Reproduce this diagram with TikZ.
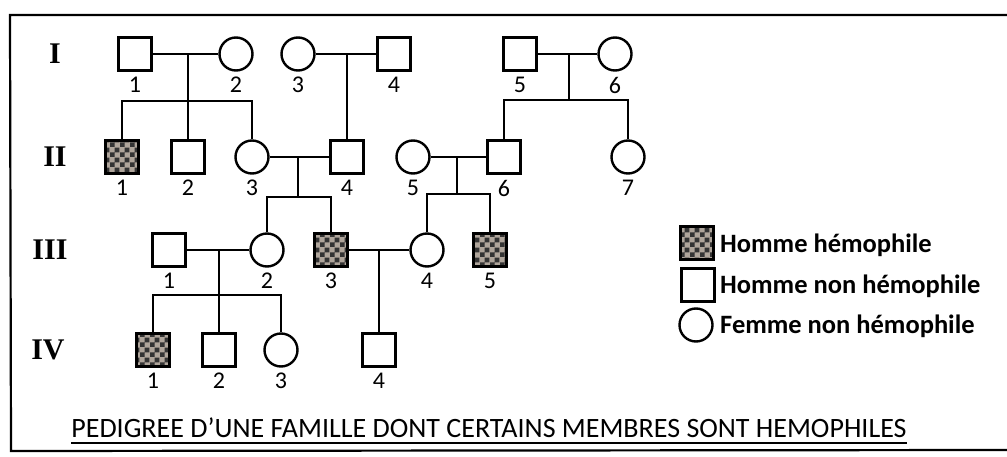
\documentclass[tikz,border=0pt]{standalone}
\usepackage{fontspec}
\setmainfont{Carlito}
\newfontfamily\romfont{Liberation Serif}
\usetikzlibrary{patterns}
\pgfdeclarepatternformonly{hchk}{\pgfpointorigin}{\pgfqpoint{10pt}{10pt}}{\pgfqpoint{10pt}{10pt}}{%
  \pgfpathrectangle{\pgfpointorigin}{\pgfqpoint{5pt}{5pt}}%
  \pgfpathrectangle{\pgfqpoint{5pt}{5pt}}{\pgfqpoint{5pt}{5pt}}%
  \pgfusepath{fill}}
\definecolor{hemobg}{RGB}{175,165,155}
\tikzset{
  ln/.style={line width=2.4pt},
  sq/.style={draw, line width=2.4pt, minimum size=33pt, inner sep=0pt},
  ci/.style={circle, draw, line width=2.4pt, minimum size=33pt, inner sep=0pt},
  hemo/.style={sq, preaction={fill=hemobg}, pattern=hchk, pattern color=black!80},
  lab/.style={font=\fontsize{24}{24}\selectfont, inner sep=0pt},
  num/.style={label={[lab, label distance=5pt]below:#1}},
  gen/.style={font=\romfont\bfseries\fontsize{30}{30}\selectfont, inner sep=0pt},
  leg/.style={font=\bfseries\fontsize{26.5}{26.5}\selectfont, inner sep=0pt, anchor=west},
}
\begin{document}
\begin{tikzpicture}[x=1pt, y=-1pt]
\useasboundingbox (0,0) rectangle (1007,457);
% frame
\draw[line width=2.2pt] (1007,15) -- (10,15) -- (11,451) -- (1007,450);
% generation labels
\node[gen] (gI) at (55,54) {I};
\node[gen] (gII) at (55,157) {II};
\node[gen] (gIII) at (50,250) {III};
\node[gen] (gIV) at (48,350) {IV};
% generation I
\node[sq, num=1] (I1) at (135,54) {};
\node[ci, num=2] (I2) at (236,54) {};
\node[ci, num=3] (I3) at (298,54) {};
\node[sq, num=4] (I4) at (394,54) {};
\node[sq, num=5] (I5) at (520,54) {};
\node[ci, num=6] (I6) at (615,54) {};
% generation II
\node[hemo, num=1] (II1) at (122,157) {};
\node[sq, num=2] (II2) at (188,157) {};
\node[ci, num=3] (II3) at (252,157) {};
\node[sq, num=4] (II4) at (347,157) {};
\node[ci, num=5] (II5) at (413,157) {};
\node[sq, num=6] (II6) at (504,157) {};
\node[ci, num=7] (II7) at (628,157) {};
% generation III
\node[sq, num=1] (III1) at (169,250) {};
\node[ci, num=2] (III2) at (267,250) {};
\node[hemo, num=3] (III3) at (331,250) {};
\node[ci, num=4] (III4) at (427,250) {};
\node[hemo, num=5] (III5) at (490,250) {};
% generation IV
\node[hemo, num=1] (IV1) at (153,350) {};
\node[sq, num=2] (IV2) at (219,350) {};
\node[ci, num=3] (IV3) at (281,350) {};
\node[sq, num=4] (IV4) at (379,350) {};
% couple I1-I2
\coordinate (m1) at (188,54);
\coordinate (s1) at (188,101);
\draw[ln] (I1) -- (I2);
\draw[ln] (m1) -- (s1);
\draw[ln] (II1) |- (s1) -| (II3);
\draw[ln] (s1) -- (II2);
% couple I3-I4
\coordinate (m2) at (347,54);
\draw[ln] (I3) -- (I4);
\draw[ln] (m2) -- (II4);
% couple I5-I6
\coordinate (m3) at (569,54);
\coordinate (s3) at (569,100);
\draw[ln] (I5) -- (I6);
\draw[ln] (m3) -- (s3);
\draw[ln] (II6) |- (s3) -| (II7);
% couple II3-II4
\coordinate (m4) at (298,157);
\coordinate (s4) at (298,197);
\draw[ln] (II3) -- (II4);
\draw[ln] (m4) -- (s4);
\draw[ln] (III2) |- (s4) -| (III3);
% couple II5-II6
\coordinate (m5) at (457,157);
\coordinate (s5) at (457,194);
\draw[ln] (II5) -- (II6);
\draw[ln] (m5) -- (s5);
\draw[ln] (III4) |- (s5) -| (III5);
% couple III1-III2
\coordinate (m6) at (219,250);
\coordinate (s6) at (219,295);
\draw[ln] (III1) -- (III2);
\draw[ln] (m6) -- (s6);
\draw[ln] (IV1) |- (s6) -| (IV3);
\draw[ln] (s6) -- (IV2);
% couple III3-III4
\coordinate (m7) at (379,250);
\draw[ln] (III3) -- (III4);
\draw[ln] (m7) -- (IV4);
% legend
\node[hemo] (L1) at (697,243) {};
\node[sq] (L2) at (698,285) {};
\node[ci] (L3) at (696,325) {};
\node[leg] (T1) at (720,245) {Homme hémophile};
\node[leg] (T2) at (720,286) {Homme non hémophile};
\node[leg] (T3) at (720,326) {Femme non hémophile};
% title
\node[inner sep=0pt, anchor=base, font=\fontsize{28}{28}\selectfont] (title) at (489,437) {PEDIGREE D’UNE FAMILLE DONT CERTAINS MEMBRES SONT HEMOPHILES};
\draw[line width=1.6pt] ([yshift=-6pt]title.base west) -- ([yshift=-6pt]title.base east);
\end{tikzpicture}
\end{document}
